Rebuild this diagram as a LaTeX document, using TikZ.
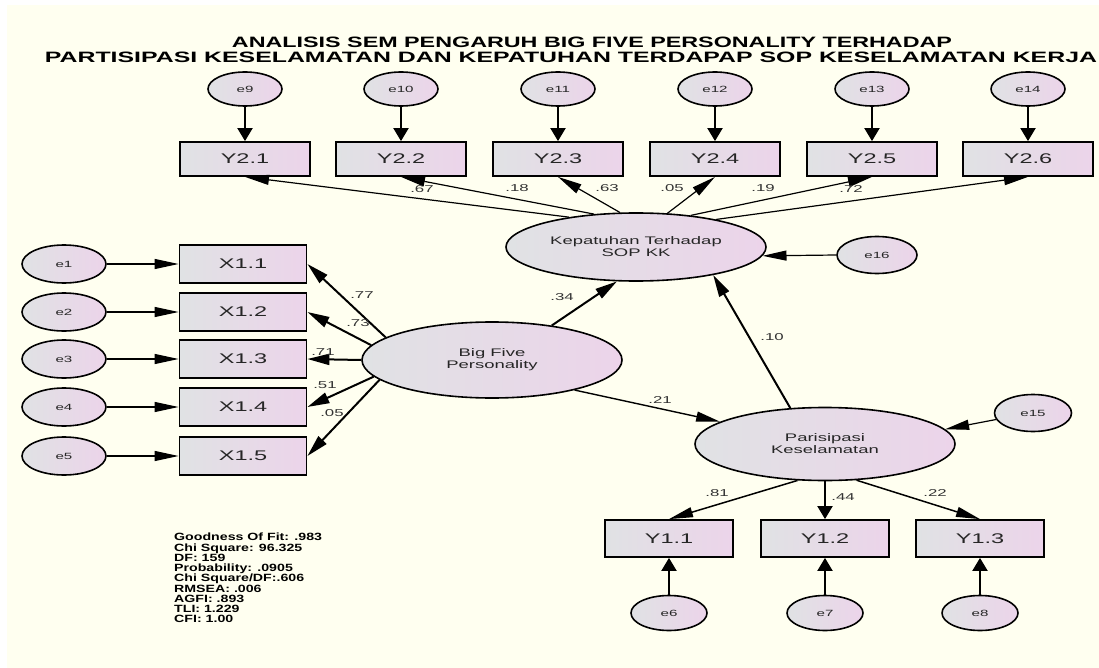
\documentclass[tikz,border=0pt]{standalone}
\usepackage{graphicx}
\usepackage{fontspec}
\setmainfont{Liberation Sans}[FakeStretch=1.68]
\newfontfamily\fitfont{Liberation Sans}[FakeStretch=1.35]
\newfontfamily\titlefont{Liberation Sans}
\usetikzlibrary{arrows.meta,shapes.geometric}
\definecolor{bgcream}{RGB}{255,255,240}
\definecolor{ngray}{RGB}{224,226,228}
\definecolor{npink}{RGB}{236,212,234}
\begin{document}
\begin{tikzpicture}[x=1pt,y=-1pt,
  every node/.style={text=black!85},
  obs/.style={draw=black, line width=1.8pt, rectangle, minimum width=130pt, minimum height=35pt, inner sep=0pt, left color=ngray, right color=npink, font=\fontsize{14}{14}\selectfont},
  err/.style={draw=black, line width=1.6pt, ellipse, minimum width=76pt, minimum height=36pt, inner sep=0pt, left color=ngray, right color=npink, font=\fontsize{9}{9}\selectfont},
  lat/.style={draw=black, line width=1.6pt, ellipse, minimum width=260pt, minimum height=70pt, inner sep=0pt, left color=ngray, right color=npink, align=center, font=\fontsize{11}{12}\selectfont},
  vertarr/.style={line width=2pt, -{Triangle[length=13pt,width=15pt]}},
  bigarr/.style={line width=2pt, -{Triangle[length=22pt,width=11pt]}},
  thinarr/.style={line width=1.2pt, -{Triangle[length=24pt,width=10pt]}},
  pl/.style={font=\fontsize{10}{10}\selectfont, inner sep=0pt, text=black!80}
]
\useasboundingbox (0,0) rectangle (1099,668);
\fill[white] (0,0) rectangle (1099,668);
\fill[bgcream] (7,5) rectangle (1099,668);

% title
\node[inner sep=0pt, text=black] (t1) at (592,42) {\resizebox{720pt}{10.5pt}{\titlefont\bfseries ANALISIS SEM PENGARUH BIG FIVE PERSONALITY TERHADAP}};
\node[inner sep=0pt, text=black] (t2) at (571,57) {\resizebox{1052pt}{10.5pt}{\titlefont\bfseries PARTISIPASI KESELAMATAN DAN KEPATUHAN TERDAPAP SOP KESELAMATAN KERJA}};

% latent variables
\node[lat, minimum height=68pt] (kep) at (636,247) {Kepatuhan Terhadap\\SOP KK};
\node[lat, minimum height=76pt] (bf) at (492,360) {Big Five\\Personality};
\node[lat, minimum height=73pt] (par) at (825,444) {Parisipasi\\Keselamatan};

% top indicators
\foreach \i/\x/\e in {1/245/9,2/401/10,3/558/11,4/715/12,5/872/13,6/1028/14}{
  \node[err, minimum width=74pt, minimum height=34pt] (e\e) at (\x,89) {e\e};
  \node[obs, minimum height=34pt] (y2\i) at (\x,159) {Y2.\i};
  \draw[vertarr] (e\e) -- (y2\i);
}

% left indicators
\foreach \i/\y in {1/264,2/312,3/359,4/407,5/456}{
  \node[err, minimum width=84pt, minimum height=38pt] (e\i) at (64,\y) {e\i};
  \node[obs, minimum width=127pt, minimum height=38pt] (x1\i) at (243,\y) {X1.\i};
  \draw[thinarr] (e\i) -- (x1\i);
}

% bottom indicators
\foreach \i/\x/\e in {1/669/6,2/825/7,3/980/8}{
  \node[obs, minimum width=128pt, minimum height=37pt] (y1\i) at (\x,538.5) {Y1.\i};
  \node[err, minimum width=76pt, minimum height=35pt] (e\e) at (\x,613) {e\e};
  \draw[vertarr] (e\e) -- (y1\i);
}

% disturbances
\node[err, minimum width=80pt, minimum height=37pt] (e16) at (877,255) {e16};
\node[err, minimum width=77pt, minimum height=37pt] (e15) at (1033,413) {e15};
\draw[thinarr] (e16.west) -- (kep.356);
\draw[thinarr] (e15.190) -- (par.7);

% Kepatuhan -> Y2
\draw[thinarr] (kep.156) -- (y21.south);
\draw[thinarr] (kep.142.5) -- (y22.south);
\draw[thinarr] (kep.115) -- (y23.south);
\draw[thinarr] (kep.47) -- (y24.south);
\draw[thinarr] (kep.30) -- (y25.south);
\draw[thinarr] (kep.19) -- (y26.south);

% Big Five -> X
\draw[bigarr] (bf.168) -- (x11.east);
\draw[bigarr] (bf.173) -- (x12.east);
\draw[bigarr] (bf.180) -- (x13.east);
\draw[bigarr] (bf.188.8) -- (x14.east);
\draw[bigarr] (bf.190.8) -- (x15.east);

% structural paths
\draw[bigarr] (bf.30) -- (kep.241.5);
\draw[thinarr, line width=1.4pt] (bf.340) -- (par.168);
\draw[bigarr] (par.134) -- (kep.340);

% Parisipasi -> Y1
\draw[thinarr, line width=1.5pt] (par.233) -- (y11.north);
\draw[vertarr] (par.270) -- (y12.north);
\draw[thinarr, line width=1.5pt] (par.311.6) -- (y13.north);

% path labels
\node[pl] at (422,189) {.67};
\node[pl] at (517,188) {.18};
\node[pl] at (607,188) {.63};
\node[pl] at (672,188) {.05};
\node[pl] at (763,188) {.19};
\node[pl] at (851,189) {.72};
\node[pl] at (362,295) {.77};
\node[pl] at (358,323) {.73};
\node[pl] at (323,352) {.71};
\node[pl] at (325,385) {.51};
\node[pl] at (332,413) {.05};
\node[pl] at (562,297) {.34};
\node[pl] at (772,337) {.10};
\node[pl] at (660,400) {.21};
\node[pl] at (717,493) {.81};
\node[pl] at (843,497) {.44};
\node[pl] at (935,493) {.22};

% fit statistics
\node[anchor=north west, inner sep=0pt, align=left, text=black, font=\fitfont\bfseries\fontsize{10.5}{10.25}\selectfont] (fit) at (174,533) {Goodness Of Fit: .983\\Chi Square: 96.325\\DF: 159\\Probability: .0905\\Chi Square/DF:.606\\RMSEA: .006\\AGFI: .893\\TLI: 1.229\\CFI: 1.00};
\end{tikzpicture}
\end{document}
